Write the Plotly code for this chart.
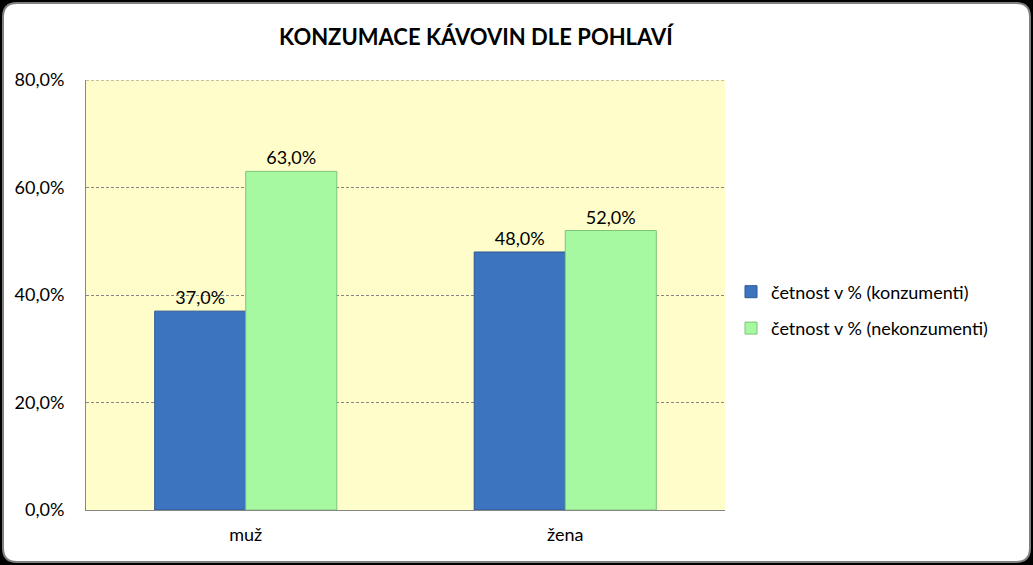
import plotly.graph_objects as go

categories = ["muž", "žena"]
konzumenti = [0.37, 0.48]
nekonzumenti = [0.63, 0.52]
series_names = ["četnost v % (konzumenti)", "četnost v % (nekonzumenti)"]
y_ticks = [0, 0.2, 0.4, 0.6, 0.8]
title_text = "KONZUMACE KÁVOVIN DLE POHLAVÍ"

W, H = 1033, 565
L, R, T, B = 86, 308, 80, 55
pw, ph = W - L - R, H - T - B

def px2x(px):
    return (px - L) / pw

def py2y(py):
    return (H - B - py) / ph

FONT = "Lato"
GRID = "#868686"

fig = go.Figure()
fig.add_trace(go.Bar(
    x=categories, y=konzumenti, name=series_names[0], legendgroup="a",
    marker=dict(color="#3D74C0", line=dict(color="#2B5793", width=1)),
    texttemplate="%{y:.1%}", textposition="outside",
    textfont=dict(size=18, color="#000000", family=FONT), cliponaxis=False,
))
fig.add_trace(go.Bar(
    x=categories, y=nekonzumenti, name=series_names[1], legendgroup="b",
    marker=dict(color="#A6F8A1", line=dict(color="#7BC578", width=1)),
    texttemplate="%{y:.1%}", textposition="outside",
    textfont=dict(size=18, color="#000000", family=FONT), cliponaxis=False,
))

# white rounded chart frame on black background
x0, x1 = px2x(3), px2x(1030)
y0, y1 = py2y(562), py2y(3)
rx = 14 / pw
ry = 14 / ph
path = (f"M {x0+rx},{y1} L {x1-rx},{y1} Q {x1},{y1} {x1},{y1-ry} "
        f"L {x1},{y0+ry} Q {x1},{y0} {x1-rx},{y0} "
        f"L {x0+rx},{y0} Q {x0},{y0} {x0},{y0+ry} "
        f"L {x0},{y1-ry} Q {x0},{y1} {x0+rx},{y1} Z")
fig.add_shape(type="path", path=path, xref="paper", yref="paper",
              fillcolor="#FFFFFF", line=dict(color="#808080", width=2), layer="below")
# plot area fill
fig.add_shape(type="rect", x0=0, x1=1, y0=0, y1=1, xref="paper", yref="paper",
              fillcolor="#FFFDC9", line=dict(width=0), layer="below")
# top gridline (at the edge of the axis range)
fig.add_shape(type="line", x0=0, x1=1, y0=y_ticks[-1], y1=y_ticks[-1], xref="paper", yref="y",
              line=dict(color=GRID, width=1, dash="3px,2px"), layer="below")

fig.update_layout(
    width=W, height=H,
    margin=dict(l=L, r=R, t=T, b=B, autoexpand=False),
    paper_bgcolor="#000000",
    plot_bgcolor="#FFFDC9",
    separators=", ",
    barmode="group", bargap=0.43, bargroupgap=0,
    font=dict(family=FONT, size=18, color="#000000"),
    title=dict(text=title_text, x=476 / W, xanchor="center", y=1 - 37 / H, yanchor="middle",
               font=dict(family=FONT, size=22, color="#000000", weight="bold")),
    legend=dict(x=px2x(731), xanchor="left", y=py2y(310), yanchor="middle",
                font=dict(family=FONT, size=18, color="#000000"),
                bgcolor="rgba(0,0,0,0)", tracegroupgap=10, itemwidth=30),
    showlegend=True,
)
fig.update_xaxes(showline=True, linecolor=GRID, linewidth=1, ticks="",
                 showgrid=False, tickfont=dict(size=18, family=FONT),
                 ticklabelstandoff=8)
fig.update_yaxes(range=[0, 0.8], tickvals=y_ticks, tickformat=".1%",
                 showline=True, linecolor=GRID, linewidth=1,
                 showgrid=True, gridcolor=GRID, griddash="3px,2px", gridwidth=1,
                 zeroline=False, ticks="", ticklabelstandoff=17,
                 tickfont=dict(size=18, family=FONT))

fig.write_html("out.html", config={"displayModeBar": False},
               post_script="document.body.style.margin='0';document.body.style.overflow='hidden';")
